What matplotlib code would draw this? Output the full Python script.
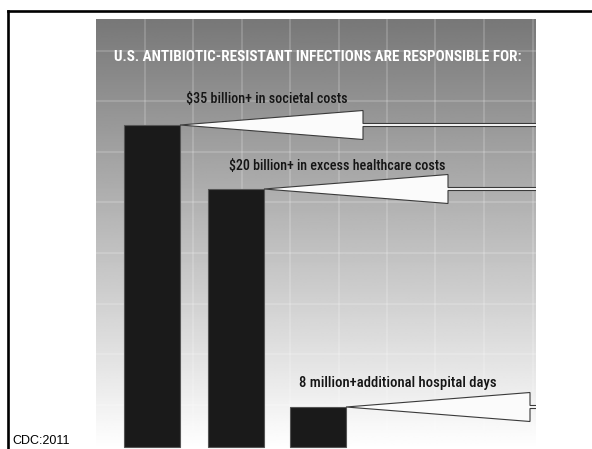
import numpy as np
import matplotlib
matplotlib.use("Agg")
import matplotlib.pyplot as plt
from matplotlib.patches import Polygon
from matplotlib.lines import Line2D

# bar data (heights in panel units, 10 px per unit) and their captions
categories = ["societal costs", "excess healthcare costs", "additional hospital days"]
bar_positions = [5.6, 14.0, 22.2]
bar_heights = [32.2, 25.8, 4.0]
bar_labels = ["$35 billion+ in societal costs",
              "$20 billion+ in excess healthcare costs",
              "8 million+additional hospital days"]
label_x = [17.1, 24.1, 30.2]
label_y = [34.8, 28.1, 6.4]
label_widths = [162, 218, 198]   # px
arrow_head_x = [26.7, 35.2, 43.4]
title = "U.S. ANTIBIOTIC-RESISTANT INFECTIONS ARE RESPONSIBLE FOR:"
source = "CDC:2011"

W, H = 592, 449
CONDENSED = ["Roboto Condensed", "DejaVu Sans Condensed", "Roboto", "DejaVu Sans"]


# left-pointing white arrow, tip on the bar's top-right corner
def draw_arrow(ax, tip_x, tip_y, head_x, right_x, head_half=1.45, shaft_half=0.15):
    pts = [
        (tip_x, tip_y),
        (head_x, tip_y + head_half),
        (head_x, tip_y + shaft_half),
        (right_x, tip_y + shaft_half),
        (right_x, tip_y - shaft_half),
        (head_x, tip_y - shaft_half),
        (head_x, tip_y - head_half),
    ]
    poly = Polygon(pts, closed=True, facecolor="#fbfbfb", edgecolor="#3a3a3a",
                   linewidth=0.8, zorder=4)
    ax.add_patch(poly)


# shrink a text until it is no wider than max_px
def fit_width(fig, txt, max_px):
    renderer = fig.canvas.get_renderer()
    size = txt.get_fontsize()
    while txt.get_window_extent(renderer).width > max_px and size > 4:
        size -= 0.1
        txt.set_fontsize(size)


def main():
    fig = plt.figure(figsize=(W / 100, H / 100), dpi=100)
    fig.patch.set_facecolor("white")

    # slide frame (runs off the right and bottom edges)
    fig.add_artist(Line2D([8 / W, 8 / W], [1 - 10.5 / H, -0.1], color="black",
                          linewidth=1.9, transform=fig.transFigure))
    fig.add_artist(Line2D([8 / W, 1.1], [1 - 10.5 / H, 1 - 10.5 / H], color="black",
                          linewidth=1.9, transform=fig.transFigure))

    # graphic panel
    ax = fig.add_axes([96 / W, 0, 440 / W, 430 / H])
    ax.set_xlim(0, 44)
    ax.set_ylim(-0.2, 42.8)

    # grey-to-white vertical gradient background (row 0 is the top)
    grad = np.linspace(0.47, 1.0, 256).reshape(-1, 1)
    ax.imshow(grad, cmap="gray", vmin=0, vmax=1, aspect="auto",
              extent=(0, 44, -0.2, 42.8), origin="upper", zorder=0)

    # faint light grid
    ax.set_xticks(np.arange(4.85, 44, 4.85))
    ax.set_yticks(np.arange(4.25, 42.8, 5.05))
    ax.grid(True, color="white", alpha=0.2, linewidth=1.2, zorder=1)
    ax.set_axisbelow(False)
    ax.tick_params(length=0, labelbottom=False, labelleft=False)
    for spine in ax.spines.values():
        spine.set_visible(False)

    bars = ax.bar(bar_positions, bar_heights, width=5.6, color="#1a1a1a",
                  edgecolor="#555555", linewidth=0.8, zorder=3)

    for bar, head_x in zip(bars, arrow_head_x):
        draw_arrow(ax, bar.get_x() + bar.get_width(), bar.get_height(), head_x, 44.5)

    for text, x, y, w in zip(bar_labels, label_x, label_y, label_widths):
        t = ax.text(x, y, text, ha="center", va="center", fontsize=11,
                    color="#151515", family=CONDENSED, fontweight="medium",
                    fontstretch="condensed", zorder=5)
        fit_width(fig, t, w)

    t = ax.text(22.15, 39.0, title, ha="center", va="center", fontsize=16,
                fontweight="bold", color="white", family=CONDENSED,
                fontstretch="condensed", zorder=5)
    fit_width(fig, t, 409)

    fig.text(12 / W, 1.5 / H, source, ha="left", va="bottom", fontsize=9,
             family=["Liberation Sans", "DejaVu Sans"], color="black")

    fig.savefig("out.png", dpi=100)
    plt.close(fig)


if __name__ == "__main__":
    main()
